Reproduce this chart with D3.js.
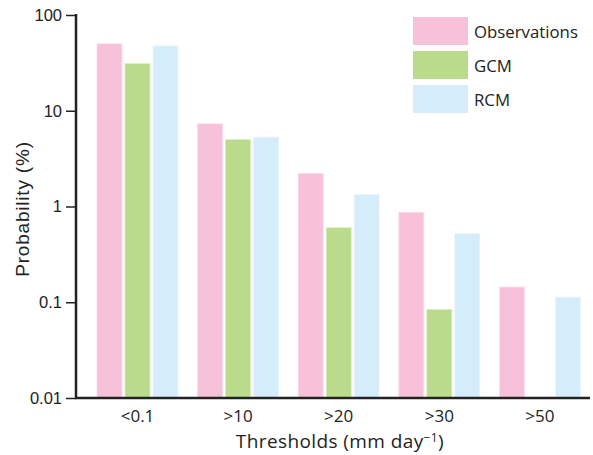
<!DOCTYPE html>
<html>
<head>
<meta charset="utf-8">
<script src="https://cdn.jsdelivr.net/npm/d3@7"></script>
<style>
  html, body { margin: 0; padding: 0; background: #fff; }
  svg { display: block; }
</style>
</head>
<body>
<svg id="chart" width="593" height="455"></svg>
<script>
// ---- data ----
const categories = ["<0.1", ">10", ">20", ">30", ">50"];
const seriesNames = ["Observations", "GCM", "RCM"];
const observations = [50, 7.3, 2.22, 0.87, 0.144];
const gcm = [31, 5.0, 0.6, 0.084, null];
const rcm = [47.5, 5.3, 1.33, 0.52, 0.113];
const yTicks = [100, 10, 1, 0.1, 0.01];
const yTickLabels = ["100", "10", "1", "0.1", "0.01"];
const colors = ["#f6c1d9", "#badb8b", "#d5ecfa"];
const strokes = ["#fbdcea", "#d9edbd", "#e8f5fd"];

const seriesValues = [observations, gcm, rcm];

(function () {
const svg = d3.select("#chart");
const mLeft = 76, mRight = 590, mTop = 15, mBottom = 398;

const y = d3.scaleLog().domain([0.01, 100]).range([mBottom, mTop]);
const x0 = d3.scaleBand().domain(categories).range([87.2, 590.2]).paddingInner(0.195).paddingOuter(0.0975);
const x1 = d3.scaleBand().domain(seriesNames).range([0, x0.bandwidth()]).paddingInner(0.107);

// bars
const g = svg.append("g");
categories.forEach((c, ci) => {
  seriesNames.forEach((s, si) => {
    const v = seriesValues[si][ci];
    if (v == null) return;
    g.append("rect")
      .attr("x", x0(c) + x1(s))
      .attr("y", y(v))
      .attr("width", x1.bandwidth())
      .attr("height", mBottom - y(v))
      .attr("fill", colors[si])
      .attr("stroke", strokes[si])
      .attr("stroke-width", 0.8);
  });
});

// y axis
const yAxis = d3.axisLeft(y).tickValues(yTicks)
  .tickFormat((d, i) => yTickLabels[i]).tickSize(10).tickPadding(4);
const ya = svg.append("g").attr("transform", `translate(${mLeft},0)`).call(yAxis);
ya.select(".domain").remove();
ya.selectAll(".tick line").attr("stroke", "#222").attr("stroke-width", 1.5);
ya.selectAll(".tick text").attr("font-family", "Liberation Sans, Arial, sans-serif")
  .attr("font-size", 16.5).attr("fill", "#222");

// x axis
const xAxis = d3.axisBottom(x0).tickSize(0).tickPadding(12);
const xa = svg.append("g").attr("transform", `translate(0,${mBottom})`).call(xAxis);
xa.select(".domain").remove();
xa.selectAll(".tick text").attr("font-family", "Open Sans, sans-serif")
  .attr("font-size", 17).attr("fill", "#222");

// axis lines
svg.append("path")
  .attr("d", `M${mLeft},${mTop - 1}V${mBottom}H${mRight}`)
  .attr("fill", "none").attr("stroke", "#222").attr("stroke-width", 2.5);

// axis titles
const xt = svg.append("text")
  .attr("x", 340).attr("y", 448)
  .attr("text-anchor", "middle")
  .attr("font-family", "Open Sans, sans-serif")
  .attr("font-size", 19).attr("letter-spacing", 0.4).attr("fill", "#222");
xt.append("tspan").text("Thresholds (mm day");
xt.append("tspan").attr("dy", -6).attr("font-size", 12).text("\u22121");
xt.append("tspan").attr("dy", 6).text(")");

svg.append("text")
  .attr("transform", "translate(29,209) rotate(-90)")
  .attr("text-anchor", "middle")
  .attr("font-family", "Liberation Sans, Arial, sans-serif")
  .attr("font-size", 19).attr("letter-spacing", 0.8).attr("fill", "#222")
  .text("Probability (%)");

// legend
const legend = svg.append("g");
seriesNames.forEach((s, i) => {
  const ly = 17 + i * 34;
  legend.append("rect").attr("x", 413).attr("y", ly).attr("width", 55).attr("height", 28)
    .attr("fill", colors[i]);
  legend.append("text").attr("x", 474).attr("y", ly + 21)
    .attr("font-family", "Open Sans, sans-serif").attr("font-size", 16.8)
    .attr("fill", "#222").text(s);
});
})();
</script>
</body>
</html>
